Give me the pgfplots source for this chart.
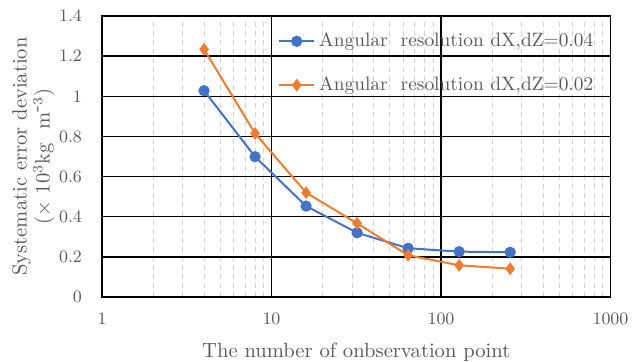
\documentclass[border=0pt]{standalone}
\usepackage{pgfplots}
\pgfplotsset{compat=1.18}
\definecolor{serA}{HTML}{4472C4}
\definecolor{serB}{HTML}{ED7D31}
\definecolor{txt}{HTML}{595959}
\begin{document}
\begin{tikzpicture}
\begin{axis}[
  scale only axis,
  anchor=south west, at={(0pt,0pt)},
  width=254.25pt, height=140.5pt,
  xmode=log, log basis x=10,
  xmin=1, xmax=1000, ymin=0, ymax=1.4,
  xtick={1,10,100,1000},
  xticklabels={1,10,100,1000},
  ytick={0,0.2,0.4,0.6,0.8,1,1.2,1.4},
  yticklabels={0,0.2,0.4,0.6,0.8,1,1.2,1.4},
  minor xtick={2,3,4,5,6,7,8,9,20,30,40,50,60,70,80,90,200,300,400,500,600,700,800,900},
  grid=both,
  major grid style={black, line width=0.7pt},
  minor grid style={gray!35, line width=0.5pt, dash pattern=on 2.5pt off 2pt},
  axis line style={black, line width=0.7pt},
  tick style={draw=none},
  ticklabel style={font=\fontsize{8.7}{10}\selectfont, text=txt},
  xticklabel style={yshift=-4.5pt},
  yticklabel style={xshift=-6.5pt},
  xlabel={The number of onbservation point},
  ylabel={Systematic error deviation\\($\times$ 10$^3$kg\ \ m$^{\mbox{-}3}$)},
  ylabel style={align=center, font=\fontsize{10.3}{11.5}\selectfont, text=txt,
    at={(axis description cs:-0.1347,0.5)}, anchor=center},
  xlabel style={font=\fontsize{10.3}{12}\selectfont, text=txt,
    at={(axis description cs:0.5,-0.196)}, anchor=center},
  legend style={at={(0.334,0.97)}, anchor=north west, draw=none, fill=none,
    font=\fontsize{9.7}{11}\selectfont, text=txt, row sep=9.5pt,
    /tikz/every even column/.append style={column sep=2pt}},
  legend cell align=left,
  legend image code/.code={
    \draw[#1] (0pt,0pt) -- (17.5pt,0pt);
    \draw[#1, mark repeat=2, mark phase=2] plot coordinates {(0pt,0pt) (8.75pt,0pt) (17.5pt,0pt)};
  },
]
\addplot[serA, line width=1pt, mark=*, mark size=2.3pt, mark options={solid, fill=serA, draw=serA}]
  coordinates {(4,1.028) (8,0.699) (16,0.453) (32,0.320) (64,0.243) (128,0.226) (256,0.223)};
\addlegendentry{Angular\ \ resolution dX,dZ=0.04}
\addplot[serB, line width=1pt, mark=diamond*, mark size=2.4pt, mark options={solid, fill=serB, draw=serB}]
  coordinates {(4,1.234) (8,0.815) (16,0.520) (32,0.367) (64,0.208) (128,0.158) (256,0.141)};
\addlegendentry{Angular\ \ resolution dX,dZ=0.02}
\end{axis}
% page frame: 632 x 361 units of 0.5pt, axis box from (102,16) to (610.5,297)
\pgfresetboundingbox
\path (-51pt,-32pt) rectangle (265pt,148.5pt);
\end{tikzpicture}
\end{document}
